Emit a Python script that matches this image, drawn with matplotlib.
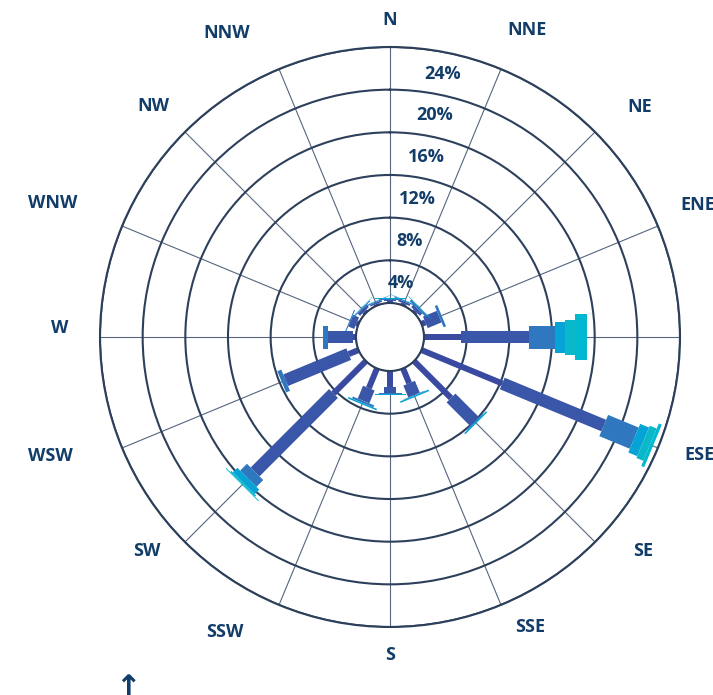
import matplotlib.pyplot as plt
import numpy as np
from matplotlib.collections import PolyCollection
from matplotlib.transforms import IdentityTransform

plt.rcParams['font.family'] = ['Open Sans', 'DejaVu Sans']

directions = ['N', 'NNE', 'NE', 'ENE', 'E', 'ESE', 'SE', 'SSE',
              'S', 'SSW', 'SW', 'WSW', 'W', 'WNW', 'NW', 'NNW']

# frequency (%) per speed class, one value per direction (N .. NNW)
speed_1 = [0.15, 0.20, 0.20, 0.40, 3.5, 8.2, 4.9, 1.5, 1.5, 2.0, 4.3, 1.0, 0.3, 0.2, 0.2, 0.15]
speed_2 = [0.15, 0.20, 0.30, 1.40, 6.3, 10.3, 3.1, 1.2, 0.6, 1.3, 10.4, 6.4, 2.3, 0.6, 0.3, 0.15]
speed_3 = [0.10, 0.10, 0.20, 0.25, 2.5, 3.1, 0.1, 0.05, 0.05, 0.2, 0.9, 0.4, 0.5, 0.1, 0.1, 0.10]
speed_4 = [0.04, 0.04, 0.06, 0.0, 0.9, 0.9, 0.15, 0.15, 0.12, 0.15, 0.6, 0.0, 0.0, 0.0, 0.04, 0.04]
speed_5 = [0.0, 0.0, 0.0, 0.0, 1.0, 0.7, 0.0, 0.0, 0.0, 0.0, 0.15, 0.0, 0.0, 0.0, 0.0, 0.0]
speed_6 = [0.0, 0.0, 0.0, 0.0, 1.1, 0.3, 0.0, 0.0, 0.0, 0.0, 0.08, 0.0, 0.0, 0.0, 0.0, 0.0]

ring_ticks = [4, 8, 12, 16, 20, 24]

series = [speed_1, speed_2, speed_3, speed_4, speed_5, speed_6]
colors = ['#3a4aa0', '#3a56a8', '#2f78bf', '#06a3d6', '#0ab9c9', '#00b9d0']
widths_px = [6, 12.5, 23, 31, 35, 46]

text_color = '#123d69'
ring_color = '#2d405b'
spoke_color = '#55657f'

# label offsets from the centre, in pixels (x right, y up)
label_offsets = [(0, 317), (137, 307), (250, 230), (308, 132), (345, 9), (310, -118),
                 (253, -214), (140, -290), (0, -318), (-165, -295), (-243, -214),
                 (-340, -119), (-330, 9), (-337, 134), (-237, 231), (-163, 304)]

fig = plt.figure(figsize=(7.13, 6.95), dpi=100)
ax = fig.add_axes([100 / 713, 68 / 695, 580 / 713, 580 / 695], projection='polar')
ax.set_theta_zero_location('N')
ax.set_theta_direction(-1)
ax.set_xlim(0, 2 * np.pi)
ax.set_ylim(0, 24)
ax.set_rorigin(-3.19)

theta = np.deg2rad(np.arange(16) * 22.5)


def radial_box(t, r0, r1, w):
    """Rectangle of constant pixel width w along the spoke at angle t."""
    p0, p1, pf = ax.transData.transform([(t, r0), (t, r1), (t, 24)])
    c = ax.transData.transform([(t, 0)])[0]
    u = (pf - c) / np.hypot(*(pf - c))
    n = np.array([-u[1], u[0]]) * w / 2
    return [p0 + n, p1 + n, p1 - n, p0 - n]


# stacked speed classes as rectangles of constant width
base = np.zeros(16)
for vals, col, w in zip(series, colors, widths_px):
    vals = np.array(vals)
    boxes = [radial_box(t, b, b + v, w) for t, b, v in zip(theta, base, vals) if v > 0]
    ax.add_collection(PolyCollection(boxes, facecolors=col, edgecolors='none',
                                     transform=IdentityTransform(), zorder=3),
                      autolim=False)
    base = base + vals

# grid
ax.set_xticks(theta)
ax.set_xticklabels([])
ax.set_yticks(ring_ticks)
ax.set_yticklabels([])
ax.xaxis.grid(True, color=spoke_color, lw=0.8)
ax.yaxis.grid(True, color=ring_color, lw=1.5)
ax.spines['polar'].set_color(ring_color)
ax.spines['polar'].set_linewidth(1.5)
if 'inner' in ax.spines:
    ax.spines['inner'].set_visible(False)
ax.tick_params(length=0)

circ = np.linspace(0, 2 * np.pi, 300)
ax.plot(circ, np.zeros_like(circ), color=ring_color, lw=1.5, zorder=4, clip_on=False)

# ring labels
for v in ring_ticks:
    ax.text(np.deg2rad(11.3), v - 2, f'{v}%', ha='center', va='center',
            fontsize=13, fontweight='bold', color=text_color, zorder=5)

# direction labels
for name, (dx, dy) in zip(directions, label_offsets):
    ax.annotate(name, xy=(0.5, 0.5), xycoords='axes fraction',
                xytext=(dx * 0.72, dy * 0.72), textcoords='offset points',
                ha='center', va='center', fontsize=13, fontweight='bold',
                color=text_color)

fig.text(128 / 713, 1 - 674 / 695, '\u2191', ha='center', va='top',
         fontsize=22, fontweight='bold', color=text_color, family='DejaVu Sans')

plt.savefig('out.png', dpi=100)
